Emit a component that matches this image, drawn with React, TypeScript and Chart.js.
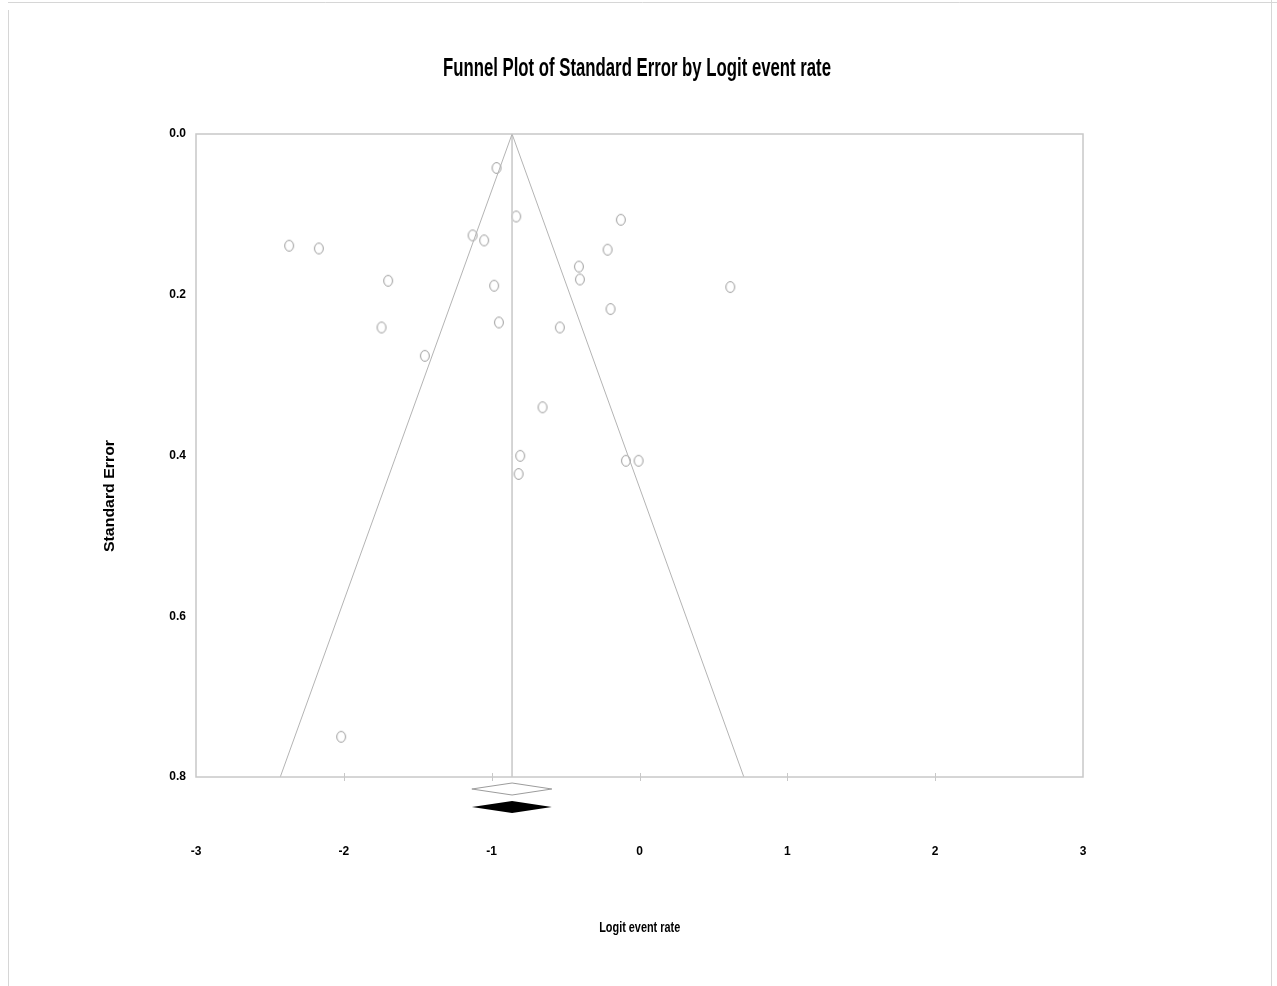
import { useEffect, useRef } from "react";
import { Chart, registerables } from "chart.js";

Chart.register(...registerables);

// Study-level estimates: logit event rate and its standard error
const logitEventRate = [
  -0.967, -0.834, -0.126, -2.37, -2.169, -1.129, -1.051, -0.216, -0.41, -0.403,
  -1.7, -0.983, 0.614, -0.196, -0.951, -0.539, -1.745, -1.452, -0.656, -0.807,
  -0.818, -0.092, -0.006, -2.018,
];
const standardError = [
  0.0423, 0.1026, 0.1067, 0.139, 0.1424, 0.1262, 0.1324, 0.144, 0.165, 0.181,
  0.1826, 0.1888, 0.1904, 0.2178, 0.2345, 0.2407, 0.2407, 0.276, 0.34, 0.4004,
  0.423, 0.4066, 0.4066, 0.75,
];

// Pooled estimate and its 95% interval (observed and adjusted)
const summaryRate = -0.862;
const summaryLower = -1.134;
const summaryUpper = -0.593;

const xTickValues = [-3, -2, -1, 0, 1, 2, 3];
const xTickLabels = ["-3", "-2", "-1", "0", "1", "2", "3"];
const yTickValues = [0, 0.2, 0.4, 0.6, 0.8];
const yTickLabels = ["0.0", "0.2", "0.4", "0.6", "0.8"];

const seMax = 0.8;
const zCrit = 1.96;

const TITLE = "Funnel Plot of Standard Error by Logit event rate";
const X_TITLE = "Logit event rate";
const Y_TITLE = "Standard Error";

const FONT = "'Liberation Sans', Arial, Helvetica, sans-serif";
const LINE_GRAY = "#b4b4b4";
const BOX_GRAY = "#c8c8c8";

function labelFor(values: number[], labels: string[], v: number): string {
  let best = 0;
  values.forEach((tv, i) => {
    if (Math.abs(tv - v) < Math.abs(values[best] - v)) best = i;
  });
  return labels[best];
}

function makeOpenEllipse(): HTMLCanvasElement {
  const c = document.createElement("canvas");
  c.width = 12;
  c.height = 14;
  const g = c.getContext("2d")!;
  g.strokeStyle = "#9c9c9c";
  g.lineWidth = 1;
  g.beginPath();
  g.ellipse(6, 7, 4.4, 5.4, 0, 0, Math.PI * 2);
  g.stroke();
  return c;
}

function drawFitted(
  ctx: CanvasRenderingContext2D,
  text: string,
  x: number,
  y: number,
  font: string,
  width: number
) {
  ctx.save();
  ctx.font = font;
  const w = ctx.measureText(text).width;
  ctx.translate(x, y);
  ctx.scale(width / w, 1);
  ctx.textAlign = "center";
  ctx.textBaseline = "alphabetic";
  ctx.fillStyle = "#000";
  ctx.fillText(text, 0, 0);
  ctx.restore();
}

const decorPlugin = {
  id: "funnelDecor",
  beforeDraw(chart: any) {
    const { ctx, width, height } = chart;
    ctx.save();
    ctx.fillStyle = "#fff";
    ctx.fillRect(0, 0, width, height);
    ctx.strokeStyle = "#d6d6d6";
    ctx.lineWidth = 1;
    ctx.beginPath();
    ctx.moveTo(8, 2.5);
    ctx.lineTo(width, 2.5);
    ctx.moveTo(8.5, 10);
    ctx.lineTo(8.5, height);
    ctx.moveTo(1271.5, 0);
    ctx.lineTo(1271.5, height);
    ctx.stroke();
    ctx.restore();
  },
  afterDraw(chart: any) {
    const { ctx, chartArea } = chart;
    const xs = chart.scales.x;
    const { left, right, top, bottom } = chartArea;

    ctx.save();
    // plot frame
    ctx.strokeStyle = BOX_GRAY;
    ctx.lineWidth = 1.5;
    ctx.strokeRect(left, top, right - left, bottom - top);

    // tick marks crossing the x axis
    ctx.lineWidth = 1;
    ctx.strokeStyle = BOX_GRAY;
    xs.ticks.forEach((t: any) => {
      if (t.value <= xs.min || t.value >= xs.max) return;
      const px = Math.round(xs.getPixelForValue(t.value)) + 0.5;
      ctx.beginPath();
      ctx.moveTo(px, bottom - 4);
      ctx.lineTo(px, bottom + 4);
      ctx.stroke();
    });

    // summary diamonds below the axis
    const xl = xs.getPixelForValue(summaryLower);
    const xm = xs.getPixelForValue(summaryRate);
    const xh = xs.getPixelForValue(summaryUpper);
    const diamond = (cy: number, h: number) => {
      ctx.beginPath();
      ctx.moveTo(xl, cy);
      ctx.lineTo(xm, cy - h);
      ctx.lineTo(xh, cy);
      ctx.lineTo(xm, cy + h);
      ctx.closePath();
    };
    diamond(bottom + 12, 6);
    ctx.fillStyle = "#fff";
    ctx.fill();
    ctx.strokeStyle = "#9c9c9c";
    ctx.lineWidth = 1;
    ctx.stroke();
    diamond(bottom + 30, 6);
    ctx.fillStyle = "#000";
    ctx.fill();

    // titles
    drawFitted(ctx, TITLE, 637, 76, `bold 26px ${FONT}`, 388);
    drawFitted(ctx, X_TITLE, 639.7, 932, `bold 14px ${FONT}`, 81);

    ctx.save();
    ctx.translate(113.5, 496);
    ctx.rotate(-Math.PI / 2);
    ctx.font = `bold 15px ${FONT}`;
    const w = ctx.measureText(Y_TITLE).width;
    ctx.scale(112 / w, 1);
    ctx.textAlign = "center";
    ctx.fillStyle = "#000";
    ctx.fillText(Y_TITLE, 0, 0);
    ctx.restore();

    ctx.restore();
  },
};

export default function App() {
  const canvasRef = useRef<HTMLCanvasElement | null>(null);

  useEffect(() => {
    const canvas = canvasRef.current;
    if (!canvas) return;

    const studies = logitEventRate.map((x, i) => ({ x, y: standardError[i] }));
    const funnel = [
      { x: summaryRate - zCrit * seMax, y: seMax },
      { x: summaryRate, y: 0 },
      { x: summaryRate + zCrit * seMax, y: seMax },
    ];
    const meanLine = [
      { x: summaryRate, y: 0 },
      { x: summaryRate, y: seMax },
    ];

    const chart = new Chart(canvas, {
      type: "scatter",
      data: {
        datasets: [
          {
            label: "Funnel",
            data: funnel,
            showLine: true,
            borderColor: LINE_GRAY,
            borderWidth: 1,
            pointRadius: 0,
            fill: false,
          },
          {
            label: "Mean",
            data: meanLine,
            showLine: true,
            borderColor: "#cfcfcf",
            borderWidth: 1,
            pointRadius: 0,
            fill: false,
          },
          {
            label: "Studies",
            data: studies,
            pointStyle: makeOpenEllipse(),
            pointRadius: 6,
            showLine: false,
          },
        ],
      },
      options: {
        responsive: false,
        animation: false,
        devicePixelRatio: 1,
        layout: { padding: { top: 134, right: 194, left: 0, bottom: 0 } },
        plugins: {
          legend: { display: false },
          title: { display: false },
          tooltip: { enabled: false },
        },
        scales: {
          x: {
            type: "linear",
            position: "bottom",
            min: -3,
            max: 3,
            grid: { display: false, drawTicks: false },
            border: { display: false },
            ticks: {
              stepSize: 1,
              autoSkip: false,
              maxRotation: 0,
              padding: 67,
              color: "#000",
              font: { family: FONT, size: 12, weight: "bold" },
              callback: (v: any) => labelFor(xTickValues, xTickLabels, Number(v)),
            },
            afterFit: (scale: any) => {
              scale.height = 209;
            },
          },
          y: {
            type: "linear",
            position: "left",
            reverse: true,
            min: 0,
            max: seMax,
            grid: { display: false, drawTicks: false },
            border: { display: false },
            ticks: {
              stepSize: 0.2,
              autoSkip: false,
              padding: 10,
              color: "#000",
              font: { family: FONT, size: 12, weight: "bold" },
              callback: (v: any) => labelFor(yTickValues, yTickLabels, Number(v)),
            },
            afterFit: (scale: any) => {
              scale.width = 196;
            },
          },
        },
      },
      plugins: [decorPlugin],
    });

    return () => chart.destroy();
  }, []);

  return (
    <div style={{ position: "fixed", left: 0, top: 0, width: 1277, height: 986, background: "#fff" }}>
      <canvas ref={canvasRef} width={1277} height={986} style={{ width: 1277, height: 986 }} />
    </div>
  );
}
